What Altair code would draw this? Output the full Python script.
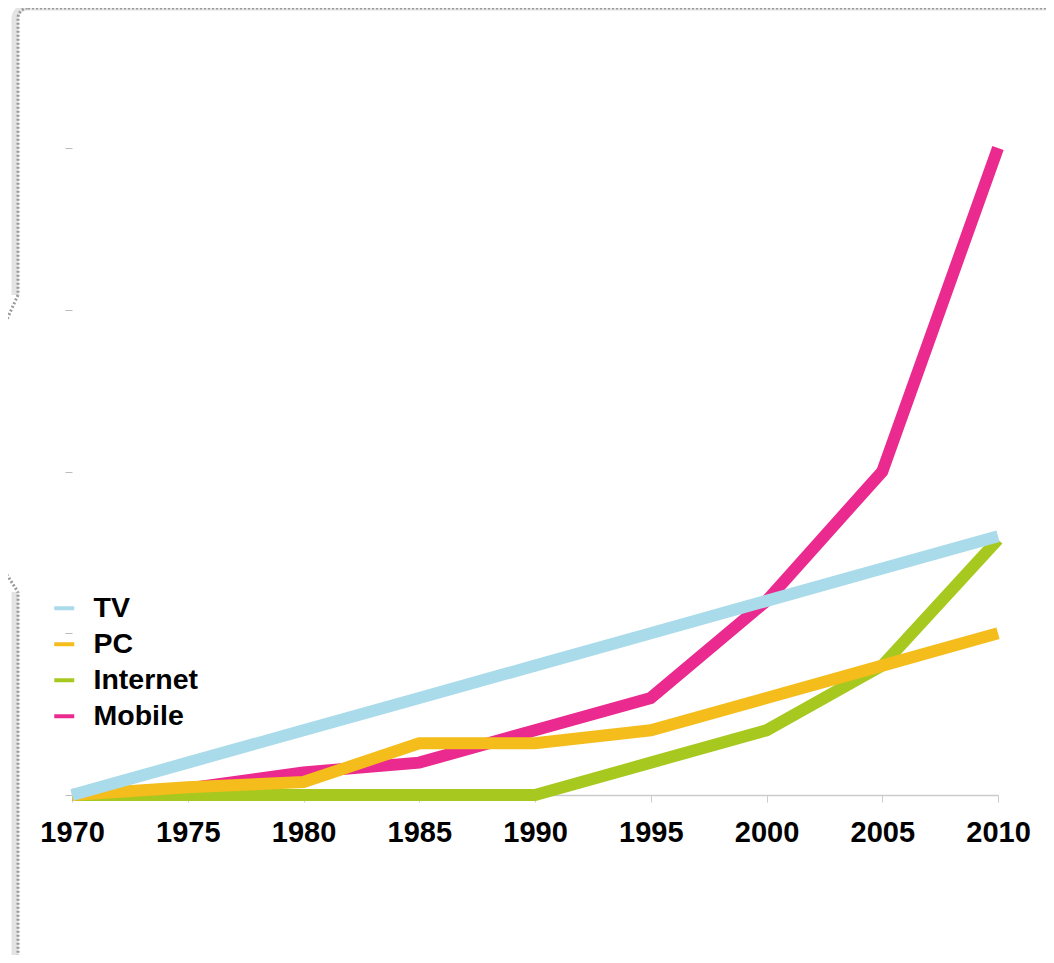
import altair as alt
import pandas as pd

years = [1970, 1975, 1980, 1985, 1990, 1995, 2000, 2005, 2010]
tv = [0, 5, 10, 15, 20, 25, 30, 35, 40]
pc = [0, 1.2, 2, 8, 8, 10, 15, 20, 25]
internet = [0, 0, 0, 0, 0, 5, 10, 20, 39.5]
mobile = [0, 1, 3.5, 5, 10, 15, 30, 50, 100]

series_names = ["TV", "PC", "Internet", "Mobile"]
series_colors = ["#A9DBEA", "#F4BD1B", "#A7C81F", "#EA2A8E"]
series_values = {"TV": tv, "PC": pc, "Internet": internet, "Mobile": mobile}

rows = []
for name in series_names:
    for yr, v in zip(years, series_values[name]):
        rows.append({"year": yr, "value": v, "series": name})
df = pd.DataFrame(rows)

color = alt.Color(
    "series:N",
    scale=alt.Scale(domain=series_names, range=series_colors),
    legend=alt.Legend(
        orient="none", legendX=-22, legendY=446, title=None,
        symbolType="stroke", symbolSize=400, symbolStrokeWidth=4,
        labelFontSize=28.5, labelFont="Liberation Sans", labelFontWeight="bold",
        labelColor="#000", labelOffset=15, rowPadding=7, padding=0,
    ),
)

x = alt.X(
    "year:Q",
    scale=alt.Scale(domain=[1970, 2010], nice=False, zero=False),
    axis=alt.Axis(
        values=years, format="d", title=None, grid=False,
        labelFontSize=29, labelFont="Liberation Sans", labelFontWeight="bold",
        labelColor="#000", labelFlush=False, labelPadding=16,
        tickColor="#cccccc", tickSize=7, domainColor="#cccccc", domainWidth=1.5,
    ),
)
y = alt.Y(
    "value:Q",
    scale=alt.Scale(domain=[0, 100], nice=False),
    axis=alt.Axis(
        values=[0, 25, 50, 75, 100], labels=False, domain=False, grid=False,
        title=None, tickColor="#bbbbbb", tickSize=7, tickWidth=1,
    ),
)

layers = []
for name in ["Mobile", "Internet", "PC", "TV"]:
    layers.append(
        alt.Chart(df[df.series == name])
        .mark_line(strokeWidth=12, strokeCap="butt", strokeJoin="miter")
        .encode(x=x, y=y, color=color)
    )

deco = alt.Data(values=[{}])
shadow = alt.Chart(deco).mark_rect(
    fillOpacity=0, stroke="#e4e4e4", strokeWidth=7, cornerRadius=12,
).encode(x=alt.value(-57), x2=alt.value(1100), y=alt.value(-141), y2=alt.value(900))
frame = alt.Chart(deco).mark_rect(
    fill="white", fillOpacity=0, stroke="#9a9a9a", strokeWidth=3,
    strokeDash=[2, 2], cornerRadius=10,
).encode(x=alt.value(-54), x2=alt.value(1100), y=alt.value(-140), y2=alt.value(900))
erase = alt.Chart(deco).mark_rect(fill="white", stroke=None).encode(
    x=alt.value(-64), x2=alt.value(-46), y=alt.value(147), y2=alt.value(444)
)
notch1 = alt.Chart(deco).mark_rule(
    stroke="#9a9a9a", strokeWidth=3, strokeDash=[2, 2]
).encode(x=alt.value(-54), y=alt.value(147), x2=alt.value(-74), y2=alt.value(191))
notch2 = alt.Chart(deco).mark_rule(
    stroke="#9a9a9a", strokeWidth=3, strokeDash=[2, 2]
).encode(x=alt.value(-74), y=alt.value(413), x2=alt.value(-54), y2=alt.value(444))

chart = alt.layer(shadow, frame, erase, notch1, notch2, *layers).properties(
    width=926, height=647,
    autosize=alt.AutoSizeParams(type="none"),
    padding={"left": 64, "top": 140, "right": 48, "bottom": 160},
    background="white",
).configure_view(stroke=None)

chart.save("out.html", embed_options={"renderer": "svg", "actions": False})
